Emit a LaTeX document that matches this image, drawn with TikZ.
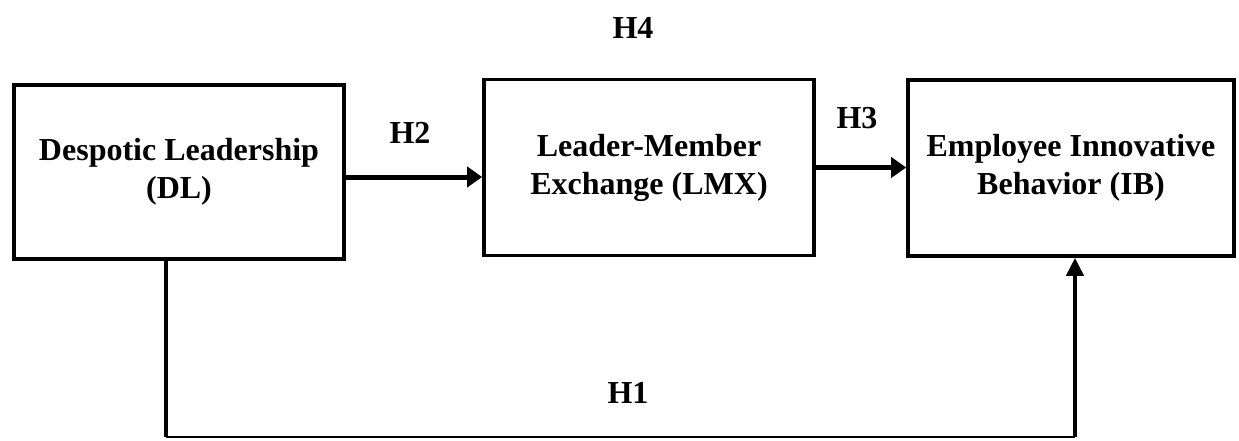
\documentclass[tikz,border=0pt]{standalone}
\usepackage{fontspec}
\setmainfont{Liberation Serif}
\usetikzlibrary{arrows.meta}
\begin{document}
\begin{tikzpicture}[x=0.5pt,y=-0.5pt,
  every node/.style={font=\fontsize{16}{19}\selectfont\bfseries},
  varbox/.style={draw,line width=1.8pt,align=center,inner sep=0pt},
  arr/.style={line width=2.5pt,-{Triangle[length=7.5pt,width=10pt]}},
  hlabel/.style={inner sep=0pt}]
\useasboundingbox (0,0) rectangle (1239,440);
% variable boxes
\node[varbox,minimum width=165pt,minimum height=87pt] (DL) at (179,172)
  {Despotic Leadership\\(DL)};
\node[varbox,minimum width=165pt,minimum height=88pt] (LMX) at (649,167.5)
  {Leader-Member\\Exchange (LMX)};
\node[varbox,minimum width=163pt,minimum height=88pt] (IB) at (1071,168)
  {Employee Innovative\\Behavior (IB)};
% hypothesis labels
\node[hlabel] (H4) at (633,28) {H4};
\node[hlabel] (H2) at (410,133) {H2};
\node[hlabel] (H3) at (857,118) {H3};
\node[hlabel] (H1) at (628,393) {H1};
% paths
\draw[arr] ([yshift=-2.5pt]DL.east) -- ([yshift=-2.5pt]DL.east -| LMX.west);
\draw[arr] (LMX.east) -- (LMX.west -| IB.west);
\coordinate (bl) at (166,437);
\coordinate (br) at (1075,437);
\draw[line width=2pt] ([xshift=-6.5pt]DL.south) -- (bl);
\draw[line width=1pt] (bl) -- (br);
\draw[line width=2pt,-{Triangle[length=9pt,width=8.5pt]}] (br) -- ([xshift=2pt]IB.south);
\end{tikzpicture}
\end{document}
